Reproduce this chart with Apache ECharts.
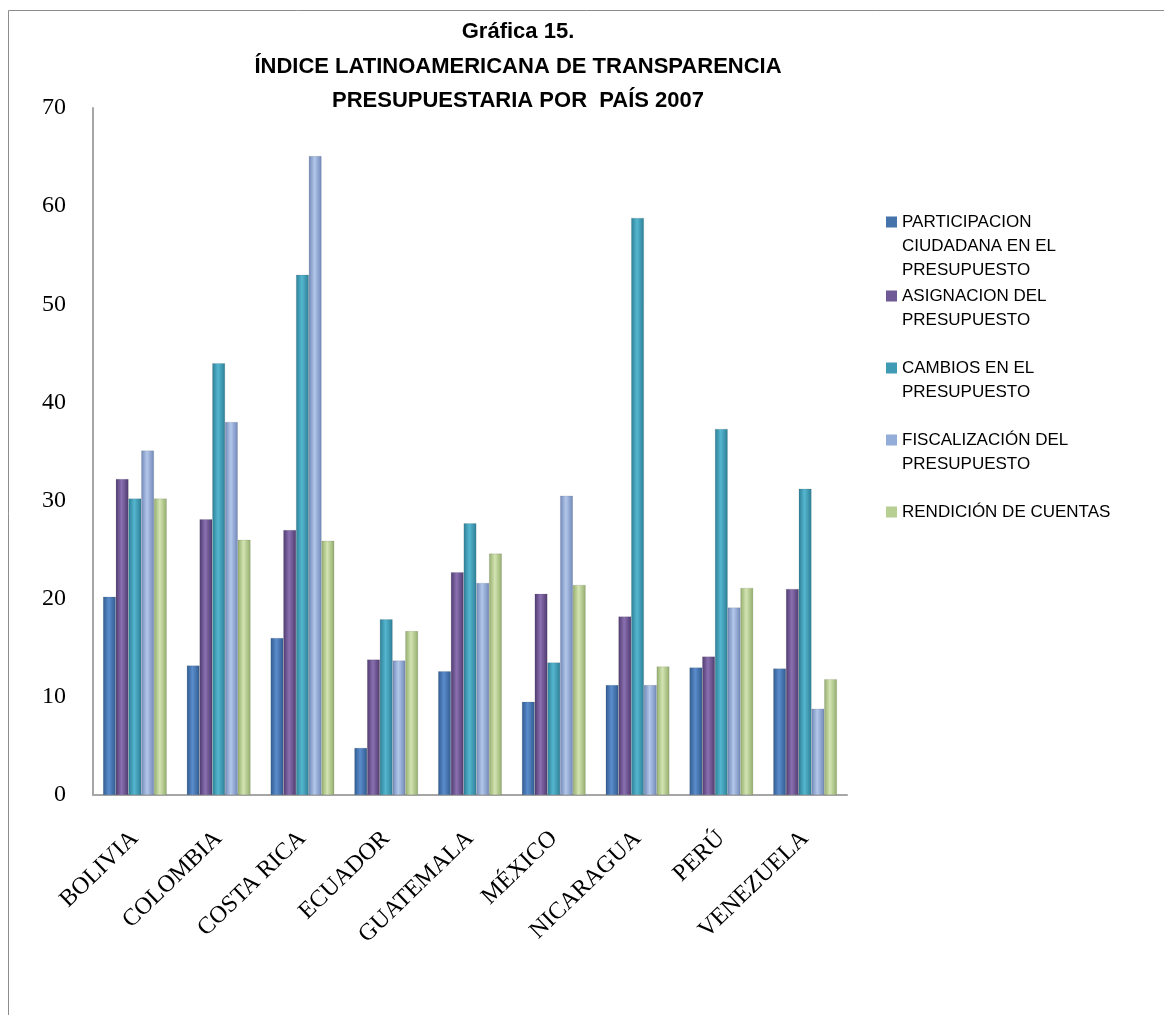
<!DOCTYPE html>
<html>
<head>
<meta charset="utf-8">
<script src="https://cdn.jsdelivr.net/npm/echarts@6/dist/echarts.min.js"></script>
<style>
  html, body { margin: 0; padding: 0; background: #fff; }
  #chart { width: 1164px; height: 1015px; }
</style>
</head>
<body>
<div id="chart"></div>
<script>
// Países evaluados
const paises = ['BOLIVIA', 'COLOMBIA', 'COSTA RICA', 'ECUADOR', 'GUATEMALA', 'MÉXICO', 'NICARAGUA', 'PERÚ', 'VENEZUELA'];

// Nombres de las variables (con saltos de línea para la leyenda)
const nombres = [
  'PARTICIPACION\nCIUDADANA EN EL\nPRESUPUESTO',
  'ASIGNACION DEL\nPRESUPUESTO',
  'CAMBIOS EN EL\nPRESUPUESTO',
  'FISCALIZACIÓN DEL\nPRESUPUESTO',
  'RENDICIÓN DE CUENTAS'
];

// Valores por variable, en el orden de los países
const participacion = [20.2, 13.2, 16.0, 4.8, 12.6, 9.5, 11.2, 13.0, 12.9];
const asignacion    = [32.2, 28.1, 27.0, 13.8, 22.7, 20.5, 18.2, 14.1, 21.0];
const cambios       = [30.2, 44.0, 53.0, 17.9, 27.7, 13.5, 58.8, 37.3, 31.2];
const fiscalizacion = [35.1, 38.0, 65.1, 13.7, 21.6, 30.5, 11.2, 19.1, 8.8];
const rendicion     = [30.2, 26.0, 25.9, 16.7, 24.6, 21.4, 13.1, 21.1, 11.8];

// Escala del eje vertical
const ejeY = { min: 0, max: 70, interval: 10 };

const series = [participacion, asignacion, cambios, fiscalizacion, rendicion];

// Colores: [oscuro, claro, base de la leyenda]
const tonos = [
  ['#2f5b8f', '#5b8ccc', '#4573ab'],
  ['#4f3a70', '#8a70b0', '#6f5a95'],
  ['#2c7f96', '#55b6cf', '#3f9ab3'],
  ['#7088b8', '#b3c7ea', '#94acd8'],
  ['#93ad6c', '#d3e4b2', '#b7cf93']
];

function cilindro(t) {
  return new echarts.graphic.LinearGradient(0, 0, 1, 0, [
    { offset: 0, color: t[0] },
    { offset: 0.45, color: t[1] },
    { offset: 1, color: t[0] }
  ]);
}

// Icono de leyenda: cuadrado alineado con la primera línea del texto
function icono(lineas) {
  const h = lineas * 24;
  return 'path://M0,6.5h11v11h-11z M0,0h0.01v0.01h-0.01z M0,' + (h - 0.01) + 'h0.01v0.01h-0.01z';
}

const lineas = nombres.map(n => n.split('\n').length);
const topsLeyenda = [210, 284, 356, 428, 500];

const leyendas = nombres.map((n, i) => ({
  orient: 'vertical',
  left: 886,
  top: topsLeyenda[i],
  padding: 0,
  itemWidth: 11,
  itemHeight: lineas[i] * 24,
  selectedMode: false,
  itemStyle: { borderWidth: 0 },
  data: [{
    name: n,
    icon: icono(lineas[i]),
    itemStyle: { color: tonos[i][2], borderWidth: 0 }
  }],
  textStyle: {
    fontFamily: 'Liberation Sans, Arial, sans-serif',
    fontSize: 17,
    lineHeight: 24,
    color: '#000'
  }
}));

const chart = echarts.init(document.getElementById('chart'));
chart.setOption({
  animation: false,
  backgroundColor: '#fff',
  title: {
    text: 'Gráfica 15.\nÍNDICE LATINOAMERICANA DE TRANSPARENCIA\nPRESUPUESTARIA POR  PAÍS 2007',
    left: 513,
    top: 10,
    textAlign: 'center',
    textStyle: {
      fontFamily: 'Liberation Sans, Arial, sans-serif',
      fontWeight: 'bold',
      fontSize: 22,
      lineHeight: 34.5,
      color: '#000'
    }
  },
  graphic: [{
    type: 'rect',
    shape: { x: 8.5, y: 10.5, width: 1200, height: 1100 },
    style: { fill: 'none', stroke: '#8c8c8c', lineWidth: 1 },
    silent: true
  }],
  legend: leyendas,
  grid: { left: 93, right: 317, top: 108, bottom: 220, containLabel: false },
  xAxis: {
    type: 'category',
    data: paises,
    axisLine: { show: true, lineStyle: { color: '#a6a6a6', width: 2 } },
    axisTick: { show: false },
    axisLabel: {
      interval: 0,
      rotate: 44,
      margin: 40,
      fontFamily: 'Liberation Serif, Times New Roman, serif',
      fontSize: 24,
      color: '#000'
    }
  },
  yAxis: {
    type: 'value',
    min: ejeY.min,
    max: ejeY.max,
    interval: ejeY.interval,
    axisLine: { show: true, lineStyle: { color: '#a6a6a6', width: 2 } },
    axisTick: { show: false },
    splitLine: { show: false },
    axisLabel: {
      margin: 27,
      fontFamily: 'Liberation Serif, Times New Roman, serif',
      fontSize: 24,
      color: '#000'
    }
  },
  series: series.map((d, i) => ({
    name: nombres[i],
    type: 'bar',
    data: d,
    barGap: '0%',
    barCategoryGap: '24%',
    color: tonos[i][2],
    itemStyle: {
      color: cilindro(tonos[i]),
      borderColor: 'rgba(60,60,60,0.25)',
      borderWidth: 0.5
    }
  }))
});
</script>
</body>
</html>
